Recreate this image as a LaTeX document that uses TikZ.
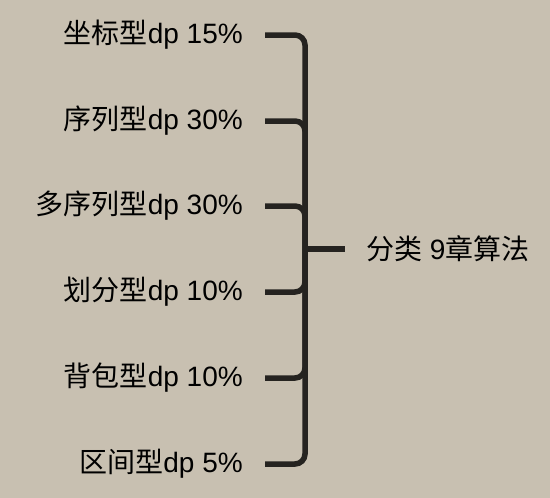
\documentclass[tikz,border=0pt]{standalone}
\usepackage{fontspec}
\setmainfont{Liberation Sans}
\newfontfamily\cjk{Noto Sans CJK SC}
\definecolor{bg}{HTML}{C8C0B1}
\definecolor{ink}{HTML}{252320}
\begin{document}
\begin{tikzpicture}[x=1pt,y=-1pt,
  lbl/.style={anchor=east,inner sep=0pt,font=\fontsize{28}{28}\selectfont,text=black},
  brace/.style={draw=ink,line width=5.5pt,rounded corners=10pt}]
\fill[bg] (0,0) rectangle (550,498);
\useasboundingbox (0,0) rectangle (550,498);
\coordinate (mid) at (305,249);
\node[lbl] (a) at (243,35) {{\cjk 坐标型}dp 15\%};
\node[lbl] (b) at (243,121) {{\cjk 序列型}dp 30\%};
\node[lbl] (c) at (243,206) {{\cjk 多序列型}dp 30\%};
\node[lbl] (d) at (243,292) {{\cjk 划分型}dp 10\%};
\node[lbl] (e) at (243,378) {{\cjk 背包型}dp 10\%};
\node[lbl] (f) at (243,464) {{\cjk 区间型}dp 5\%};
\node[lbl,anchor=west] (r) at (366,249) {{\cjk 分类} 9{\cjk 章算法}};
\foreach \n/\y in {a/35,b/121,c/206,d/292,e/378,f/464}{
  \coordinate (s\n) at (265,\y);
  \draw[brace] (s\n) -| (mid);
}
\coordinate (stub) at (345,249);
\draw[brace,rounded corners=0pt] (mid) -- (stub);
\end{tikzpicture}
\end{document}
